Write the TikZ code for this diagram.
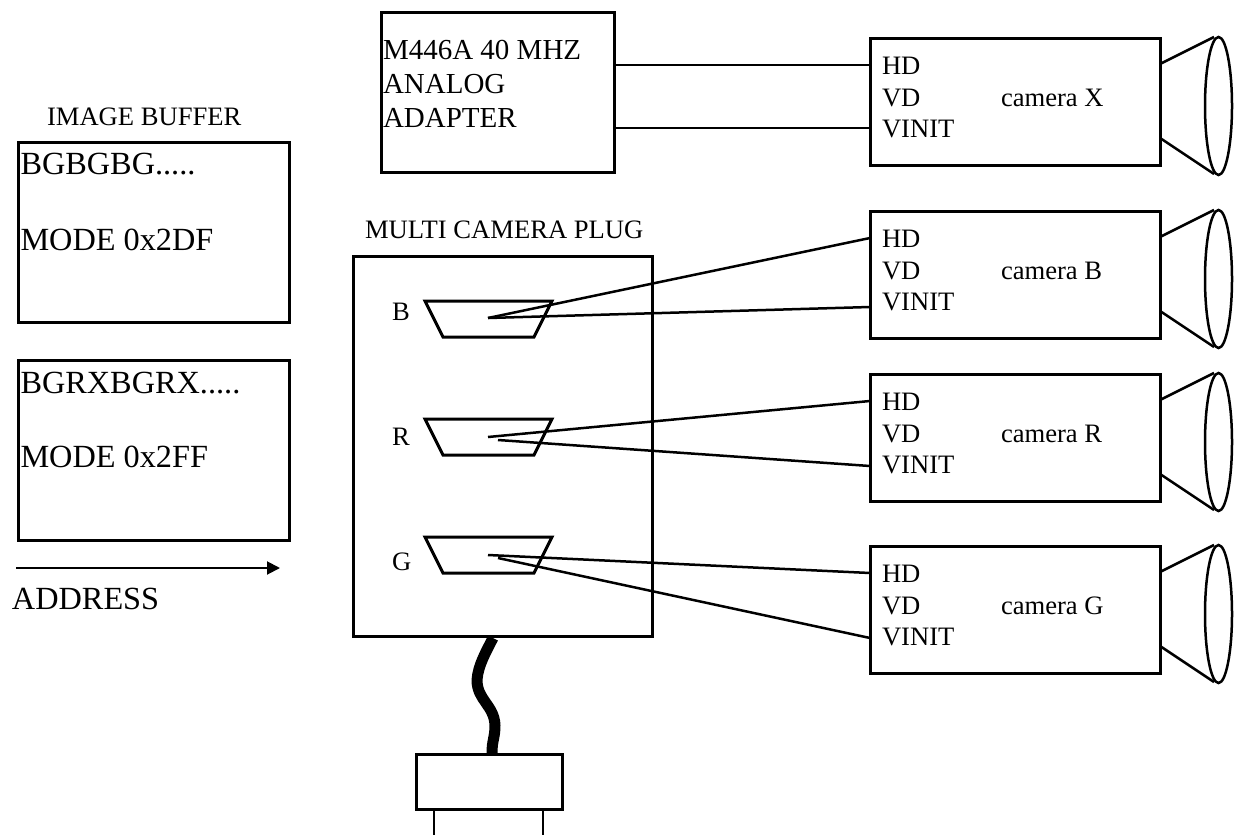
\documentclass[tikz,border=0pt]{standalone}
\usepackage{fontspec}
\setmainfont{Liberation Serif}
\usetikzlibrary{arrows.meta,shapes.geometric}
\newcommand{\smallf}{\fontsize{26.6}{30}\selectfont}
\newcommand{\midf}{\fontsize{29}{33}\selectfont}
\newcommand{\bigf}{\fontsize{32.3}{36}\selectfont}
\tikzset{
  boxline/.style={draw=black,line width=3pt,line join=miter},
  boxnode/.style={boxline,rectangle,inner sep=0pt,outer sep=0pt},
  wire/.style={draw=black,line width=2.5pt},
  lens/.style={wire,ellipse,inner sep=0pt,outer sep=0pt,minimum width=27pt,minimum height=138pt},
  small/.style={anchor=base west,inner sep=0pt,outer sep=0pt,font=\smallf,text=black},
  midt/.style={anchor=base west,inner sep=0pt,outer sep=0pt,font=\midf,text=black},
  big/.style={anchor=base west,inner sep=0pt,outer sep=0pt,font=\bigf,text=black},
}
\begin{document}
\begin{tikzpicture}[x=1pt,y=-1pt]
\useasboundingbox (0,0) rectangle (1234,835);
% image buffers
\node[small] (ibt) at (47,125) {IMAGE BUFFER};
\node[boxnode,minimum width=271pt,minimum height=180pt] (buf1) at (153.5,232) {};
\node[boxnode,minimum width=271pt,minimum height=180pt] (buf2) at (153.5,450) {};
\node[big] (t1) at (20.5,174) {BGBGBG.....};
\node[big] (t2) at (20.5,250) {MODE 0x2DF};
\node[big] (t3) at (20.5,393) {BGRXBGRX.....};
\node[big] (t4) at (20.5,467) {MODE 0x2FF};
\coordinate (as) at (16,568);
\coordinate (ae) at (280,568);
\draw[line width=2pt,-{Triangle[length=13pt,width=13pt]}] (as) -- (ae);
\node[big] (addr) at (12,609) {ADDRESS};
% adapter
\node[boxnode,minimum width=233pt,minimum height=160pt] (adapter) at (497.5,92) {};
\node[midt] (a1) at (383,59) {M446A 40 MHZ};
\node[midt] (a2) at (383,93) {ANALOG};
\node[midt] (a3) at (383,127) {ADAPTER};
% plug
\node[small] (mcp) at (365,238) {MULTI CAMERA PLUG};
\node[boxnode,minimum width=299pt,minimum height=380pt] (plug) at (502.5,446) {};
\foreach \yy/\ll/\bb in {301/B/320,419/R/445,537/G/570}{
  \draw[boxline] (425,\yy) -- (552,\yy) -- (534,\yy+36) -- (443,\yy+36) -- cycle;
  \node[small] (lab\ll) at (392,\bb) {\ll};
}
% cable and connector
\node[boxnode,minimum width=146pt,minimum height=55pt] (conn) at (489,781.5) {};
\coordinate (c0) at (493,638);
\coordinate (c1) at (492,753);
\draw[line width=11pt,line join=round] (c0) .. controls (487,650) and (478,665) .. (477,680)
  .. controls (477,700) and (494,705) .. (495,725) .. controls (495,738) and (492,740) .. (c1);
\coordinate (pin1) at (434,835);
\coordinate (pin2) at (543,835);
\draw[wire] (434,809) -- (pin1);
\draw[wire] (543,809) -- (pin2);
% cameras
\foreach \T/\nm in {38/X,211/B,374/R,546/G}{
  \node[boxnode,minimum width=290pt,minimum height=127pt] (cam\nm) at (1015,\T+63.5) {};
  \node[small] (hd\nm) at (882,\T+36.5) {HD};
  \node[small] (vd\nm) at (882,\T+68.5) {VD};
  \node[small] (vi\nm) at (882,\T+99.5) {VINIT};
  \node[small] (nm\nm) at (1001,\T+68.5) {camera \nm};
  \node[lens] (lens\nm) at (1218.5,\T+68) {};
  \coordinate (lt\nm) at (1214,\T-1);
  \coordinate (lb\nm) at (1214,\T+136);
  \draw[wire] (1160,\T+26) -- (lt\nm);
  \draw[wire] (1160,\T+100) -- (lb\nm);
}
% connectors
\draw[wire] (adapter.east |- 0,65) -- (camX.west |- 0,65);
\draw[wire] (adapter.east |- 0,128) -- (camX.west |- 0,128);
\coordinate (pb) at (488,318);
\coordinate (pr1) at (488,437); \coordinate (pr2) at (498,440);
\coordinate (pg1) at (488,555); \coordinate (pg2) at (498,558);
\draw[wire] (pb) -- (camB.west |- 0,238);
\draw[wire] (pb) -- (camB.west |- 0,307);
\draw[wire] (pr1) -- (camR.west |- 0,401);
\draw[wire] (pr2) -- (camR.west |- 0,466);
\draw[wire] (pg1) -- (camG.west |- 0,573);
\draw[wire] (pg2) -- (camG.west |- 0,638);
\end{tikzpicture}
\end{document}
